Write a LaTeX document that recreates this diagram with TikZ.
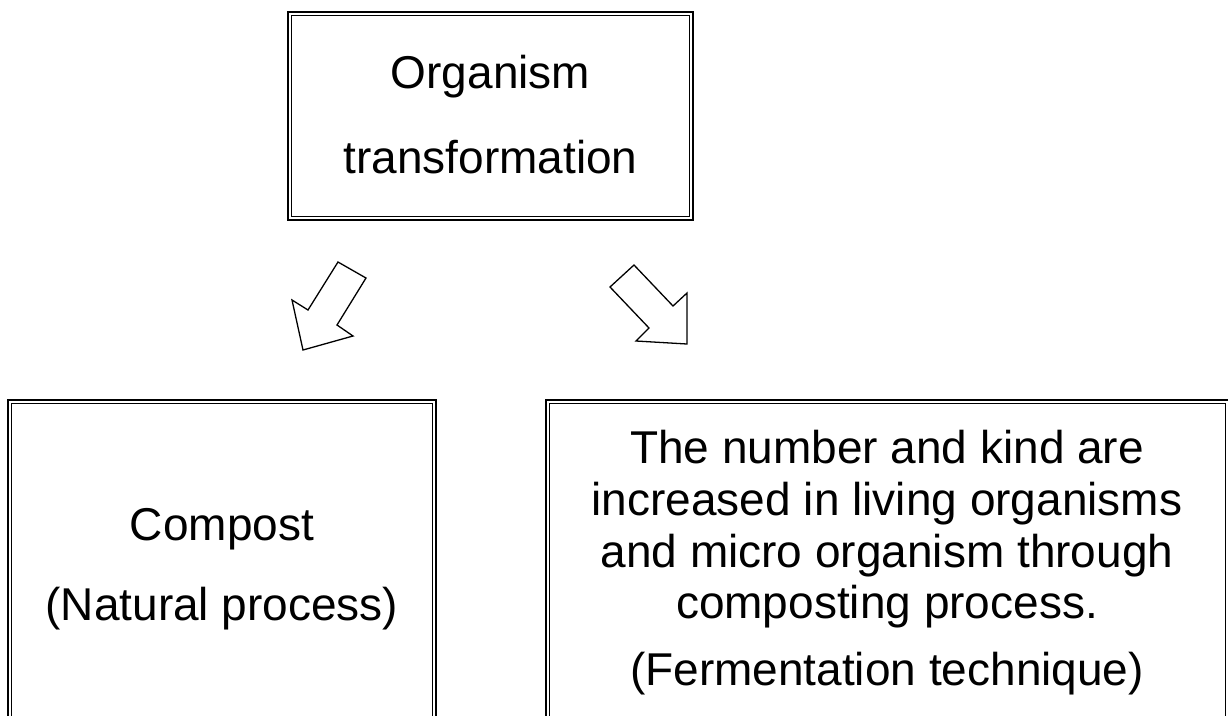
\documentclass[tikz,border=0pt]{standalone}
\usepackage{fontspec}
\setmainfont{Liberation Sans}
\begin{document}
\begin{tikzpicture}[x=1pt,y=1pt,
  boxouter/.style={draw=black,line width=2pt,inner sep=0pt},
  boxinner/.style={draw=black,line width=1.3pt},
  lbl/.style={anchor=base,inner sep=0pt,font=\fontsize{46}{46}\selectfont},
  blockarrow/.style={draw=black,line width=1.3pt,line join=miter,fill=white}]
\clip (0,0) rectangle (1228,-715);
\useasboundingbox (0,0) rectangle (1228,-715);
% top box
\node[boxouter,minimum width=405pt,minimum height=208pt] (top) at (490.5,-116) {};
\draw[boxinner] ([shift={(4.5,-4.5)}]top.north west) rectangle ([shift={(-4.5,4.5)}]top.south east);
\node[lbl] (t1) at (490.5,-88) {Organism};
\node[lbl] (t2) at (490.5,-173) {transformation};
% bottom left box
\node[boxouter,minimum width=428pt,minimum height=360pt] (left) at (222,-580) {};
\draw[boxinner] ([shift={(4.5,-4.5)}]left.north west) rectangle ([shift={(-4.5,4.5)}]left.south east);
\node[lbl] (l1) at (222,-540) {Compost};
\node[lbl] (l2) at (222,-620) {(Natural process)};
% bottom right box
\node[boxouter,minimum width=683pt,minimum height=360pt] (right) at (887.5,-580) {};
\draw[boxinner] ([shift={(4.5,-4.5)}]right.north west) rectangle ([shift={(-4.5,4.5)}]right.south east);
\node[lbl] (r1) at (887,-463) {The number and kind are};
\node[lbl] (r2) at (887,-515) {increased in living organisms};
\node[lbl] (r3) at (887,-567) {and micro organism through};
\node[lbl] (r4) at (887,-618) {composting process.};
\node[lbl] (r5) at (887,-685) {(Fermentation technique)};
% block arrows
\draw[blockarrow] (338,-262) -- (366,-278) -- (337,-325) -- (353,-336) -- (303,-350) -- (292,-300) -- (308,-310) -- cycle;
\draw[blockarrow] (634,-265) -- (610,-287) -- (649,-328) -- (636,-341) -- (687,-344) -- (687,-293) -- (673,-306) -- cycle;
\end{tikzpicture}
\end{document}
